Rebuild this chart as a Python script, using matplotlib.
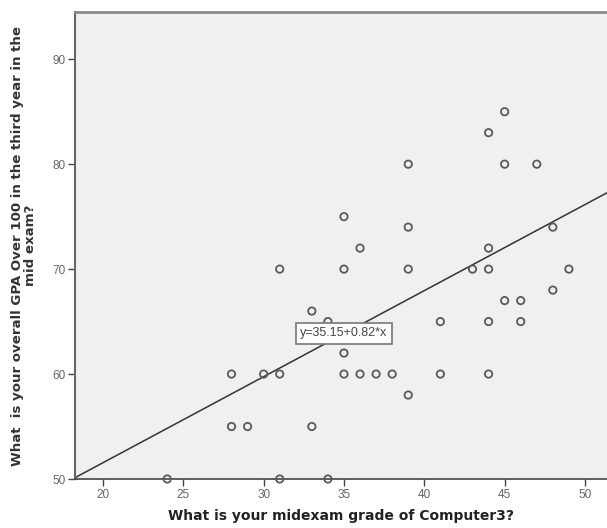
import matplotlib
matplotlib.use('Agg')
import matplotlib.pyplot as plt

plt.rcParams['font.family'] = ['Liberation Sans', 'DejaVu Sans']

# midexam grade (x) vs overall GPA (y)
midexam = [24, 31, 34,
           28, 30, 31, 35, 36, 37, 38, 41, 44,
           28, 29, 33,
           39,
           33, 34, 35,
           41, 44, 46,
           45, 46, 48,
           31, 35, 39, 43, 44, 49,
           36, 44, 35, 39, 48,
           39, 45, 47, 44, 45]
gpa = [50, 50, 50,
       60, 60, 60, 60, 60, 60, 60, 60, 60,
       55, 55, 55,
       58,
       66, 65, 62,
       65, 65, 65,
       67, 67, 68,
       70, 70, 70, 70, 70, 70,
       72, 72, 75, 74, 74,
       80, 80, 80, 83, 85]

intercept = 35.15
slope = 0.82
x_ticks = [20, 25, 30, 35, 40, 45, 50]
y_ticks = [50, 60, 70, 80, 90]

fig = plt.figure(figsize=(6.07, 5.28), dpi=100)
ax = fig.add_axes([75 / 607, 49 / 528, 532 / 607, 467 / 528])
ax.set_facecolor('#f0f0f0')

ax.set_xlim(18.26, 51.37)
ax.set_ylim(50, 94.5)

x_line = [18.26, 51.37]
ax.plot(x_line, [intercept + slope * v for v in x_line], color='#333333', lw=1.1, zorder=2)

ax.scatter(midexam, gpa, s=28, facecolors='none', edgecolors='#5a5a5a',
           linewidths=1.3, zorder=3, clip_on=False)

ax.text(35.0, 63.9, 'y=35.15+0.82*x', fontsize=9, color='#444444',
        ha='center', va='center', zorder=4,
        bbox=dict(boxstyle='square,pad=0.35', fc='white', ec='#777777', lw=1.2))

ax.set_xticks(x_ticks)
ax.set_yticks(y_ticks)
ax.tick_params(axis='both', labelsize=8.5, labelcolor='#666666', color='#444444',
               length=5, width=1, direction='out', pad=2)

ax.spines['right'].set_visible(False)
ax.spines['top'].set_color('#8a8a8a')
ax.spines['top'].set_linewidth(2)
ax.spines['left'].set_color('#666666')
ax.spines['left'].set_linewidth(1.5)
ax.spines['bottom'].set_color('#444444')
ax.spines['bottom'].set_linewidth(1.2)

ax.set_xlabel('What is your midexam grade of Computer3?', fontsize=10,
              family='DejaVu Sans', fontweight='bold', color='#222222', labelpad=6)
ax.set_ylabel('What  is your overall GPA Over 100 in the third year in the\nmid exam?',
              fontsize=9.6, family='DejaVu Sans', fontweight='bold', color='#333333',
              labelpad=11, linespacing=1.0)

fig.savefig('out.png', dpi=100)
